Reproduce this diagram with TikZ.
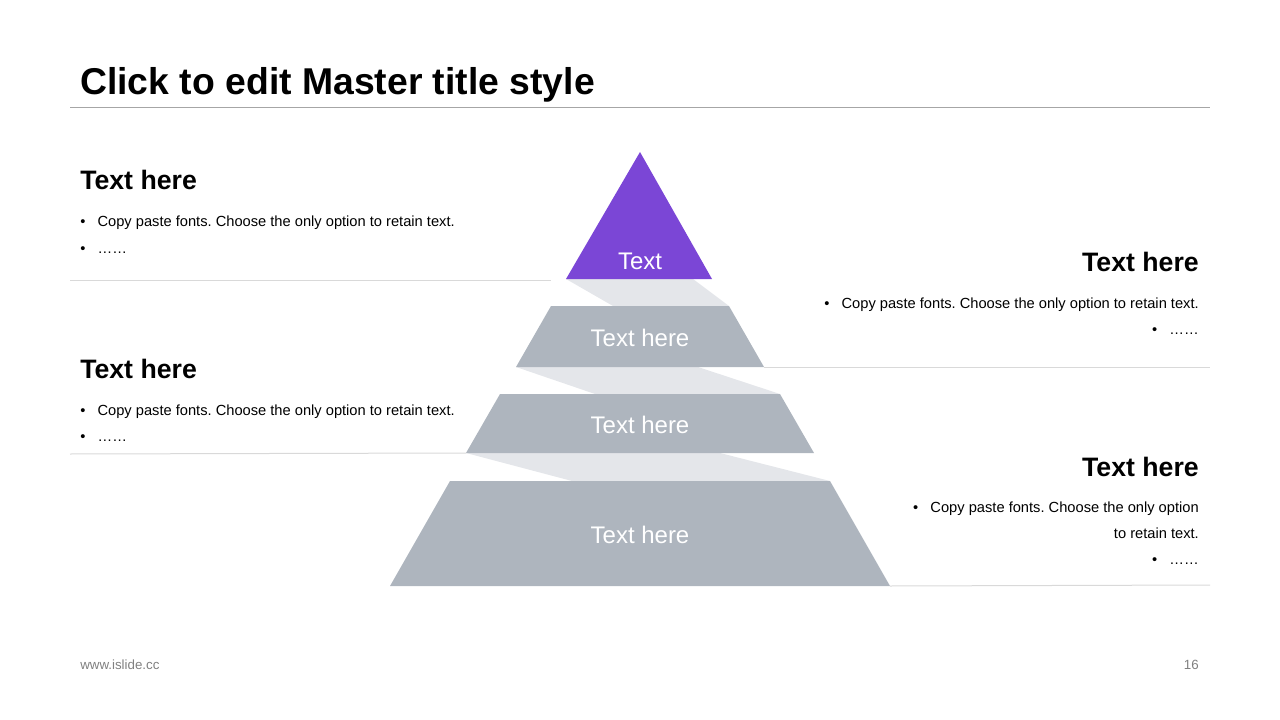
\documentclass[tikz,border=0pt]{standalone}
\usepackage{fontspec}
\setmainfont{Liberation Sans}
\frenchspacing
\usetikzlibrary{positioning}
\definecolor{tipviolet}{RGB}{123,70,214}
\definecolor{layergray}{RGB}{174,181,190}
\definecolor{foldgray}{RGB}{228,230,234}
\definecolor{rulegray}{RGB}{217,217,217}
\definecolor{footgray}{RGB}{128,128,128}
\tikzstyle{layer} = [fill=layergray, draw=none]
\tikzstyle{tip} = [fill=tipviolet, draw=none]
\tikzstyle{fold} = [fill=foldgray, draw=none]
\tikzstyle{sep} = [draw=rulegray, line width=0.75pt]
\tikzstyle{layertext} = [text=white, inner sep=0pt, font=\fontsize{18}{21}\selectfont]
\tikzstyle{heading} = [inner sep=0pt, font=\fontsize{20}{24}\selectfont\bfseries]
\tikzstyle{body} = [inner sep=0pt, font=\fontsize{11}{13}\selectfont]
\tikzstyle{foot} = [inner sep=0pt, text=footgray, font=\fontsize{10}{12}\selectfont]

\begin{document}
\begin{tikzpicture}[x=0.75pt, y=-0.75pt]
        \useasboundingbox (0,0) rectangle (1280,720);

        % Title
        \node [inner sep=0pt, anchor=base west, font=\fontsize{28}{34}\selectfont\bfseries] (title) at (80,95) {Click to edit Master title style};
        \coordinate (tl) at (70,108);
        \coordinate (tr) at (1210,108);
        \draw [draw=black!35, line width=0.75pt] (tl) -- (tr);

        % Place corners
        \coordinate (apex) at (640,152);
        \coordinate (b0l) at (566,279);
        \coordinate (b0r) at (712,279);
        \coordinate (a1l) at (551,306);
        \coordinate (a1r) at (729,306);
        \coordinate (b1l) at (516,367);
        \coordinate (b1r) at (764,367);
        \coordinate (a2l) at (500,394);
        \coordinate (a2r) at (780,394);
        \coordinate (b2l) at (466,453);
        \coordinate (b2r) at (814,453);
        \coordinate (a3l) at (450,481);
        \coordinate (a3r) at (830,481);
        \coordinate (b3l) at (390,586);
        \coordinate (b3r) at (890,586);

        % Folds
        \fill [fold] (b0l) -- (693,279) -- (a1r) -- (613,306) -- cycle;
        \fill [fold] (b1l) -- (698,367) -- (a2r) -- (595,394) -- cycle;
        \fill [fold] (b2l) -- (720,453) -- (a3r) -- (572,481) -- cycle;

        % Layers
        \fill [tip] (apex) -- (b0r) -- (b0l) -- cycle;
        \fill [layer] (a1l) -- (a1r) -- (b1r) -- (b1l) -- cycle;
        \fill [layer] (a2l) -- (a2r) -- (b2r) -- (b2l) -- cycle;
        \fill [layer] (a3l) -- (a3r) -- (b3r) -- (b3l) -- cycle;

        \node [layertext] (tip) at (640,261) {Text};
        \node [layertext] (lay1) at (640,338) {Text here};
        \node [layertext] (lay2) at (640,425) {Text here};
        \node [layertext] (lay3) at (640,535) {Text here};

        % Separators
        \coordinate (s1) at (70,280);
        \coordinate (s1e) at (551,280);
        \coordinate (s2e) at (1210,367);
        \coordinate (s3) at (70,454);
        \coordinate (s4e) at (1210,585);
        \draw [sep] (s1) -- (s1e);
        \draw [sep] (b1r) -- (s2e);
        \draw [sep] (s3) -- (b2l);
        \draw [sep] (b3r) -- (s4e);

        % Left blocks
        \node [heading, anchor=base west] (lh1) at (80,190) {Text here};
        \node [body, anchor=base west] (lt1) at (80,227) {\makebox[13pt][l]{•}Copy paste fonts. Choose the only option to retain text.};
        \node [body, anchor=base west] (ld1) at (80,253) {\makebox[13pt][l]{•}……};

        \node [heading, anchor=base west] (lh2) at (80,378) {Text here};
        \node [body, anchor=base west] (lt2) at (80,415) {\makebox[13pt][l]{•}Copy paste fonts. Choose the only option to retain text.};
        \node [body, anchor=base west] (ld2) at (80,441) {\makebox[13pt][l]{•}……};

        % Right blocks
        \node [heading, anchor=base east] (rh1) at (1199,272) {Text here};
        \node [body, anchor=base east] (rt1) at (1199,308) {\makebox[13pt][l]{•}Copy paste fonts. Choose the only option to retain text.};
        \node [body, anchor=base east] (rd1) at (1199,334) {\makebox[13pt][l]{•}……};

        \node [heading, anchor=base east] (rh2) at (1199,476) {Text here};
        \node [body, anchor=base east] (rt2) at (1199,512) {\makebox[13pt][l]{•}Copy paste fonts. Choose the only option};
        \node [body, anchor=base east] (rt2b) at (1199,538) {to retain text.};
        \node [body, anchor=base east] (rd2) at (1199,564) {\makebox[13pt][l]{•}……};

        % Footer
        \node [foot, anchor=west] (site) at (80,665) {www.islide.cc};
        \node [foot, anchor=east] (page) at (1199,665) {16};
    \end{tikzpicture}
\end{document}
